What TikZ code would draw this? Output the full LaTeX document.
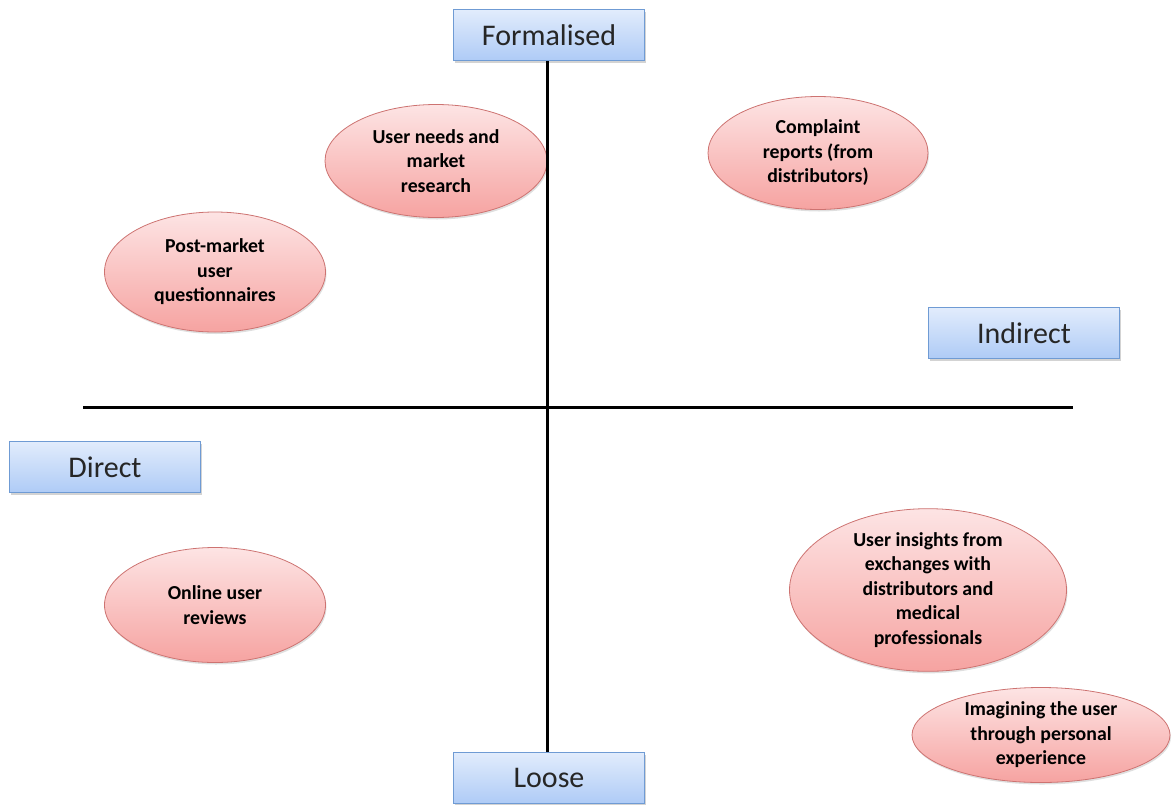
\documentclass[tikz,border=0pt]{standalone}
\usepackage{fontspec}
\setmainfont{Carlito}
\usetikzlibrary{shapes.geometric,shadows}
\definecolor{boxtop}{HTML}{E2ECFC}
\definecolor{boxbot}{HTML}{AECBF6}
\definecolor{boxline}{HTML}{6F9BD4}
\definecolor{elltop}{HTML}{FDE4E4}
\definecolor{ellbot}{HTML}{F6A3A1}
\definecolor{ellline}{HTML}{C0504D}
\tikzset{
  axislabel/.style={rectangle, draw=boxline, line width=1pt,
    top color=boxtop, bottom color=boxbot,
    minimum width=191pt, minimum height=51pt, inner sep=0pt,
    font=\fontsize{30}{34}\selectfont, text=black!85,
    drop shadow={shadow xshift=1.5pt, shadow yshift=-2pt, opacity=0.35}},
  channel/.style={ellipse, draw=ellline!80, line width=0.8pt,
    top color=elltop, bottom color=ellbot, inner sep=0pt,
    align=center, font=\bfseries\fontsize{19.8}{24.5}\selectfont,
    drop shadow={shadow xshift=1pt, shadow yshift=-2pt, opacity=0.25}},
  axis/.style={line width=3pt, black}
}
\begin{document}
\begin{tikzpicture}[x=1pt,y=-1pt]
\useasboundingbox (0,0) rectangle (1173,804);

% information channels
\node[channel, minimum width=222pt, minimum height=113pt] (needs) at (436,161)
  {User needs and\\market\\research};
\node[channel, minimum width=220pt, minimum height=113pt] (complaint) at (818,153)
  {Complaint\\reports (from\\distributors)};
\node[channel, minimum width=221pt, minimum height=120pt] (postmarket) at (215,272)
  {Post-market\\user\\questionnaires};
\node[channel, minimum width=221pt, minimum height=115pt] (reviews) at (215,605)
  {Online user\\reviews};
\node[channel, minimum width=277pt, minimum height=155pt] (insights) at (928,590)
  {User insights from\\exchanges with\\distributors and\\medical\\professionals};
\node[channel, minimum width=258pt, minimum height=95pt] (imagining) at (1041,735)
  {Imagining the user\\through personal\\experience};

% axis labels
\node[axislabel] (formal) at (549,35) {Formalised};
\node[axislabel] (loose) at (549,778) {Loose};
\node[axislabel] (direct) at (105,467) {Direct};
\node[axislabel] (indirect) at (1024,333) {Indirect};

% axes
\coordinate (left) at (83,407);
\coordinate (right) at (1073,407);
\draw[axis] (formal.south -| 547,0) -- (loose.north -| 547,0);
\draw[axis] (left) -- (right);
\end{tikzpicture}
\end{document}
